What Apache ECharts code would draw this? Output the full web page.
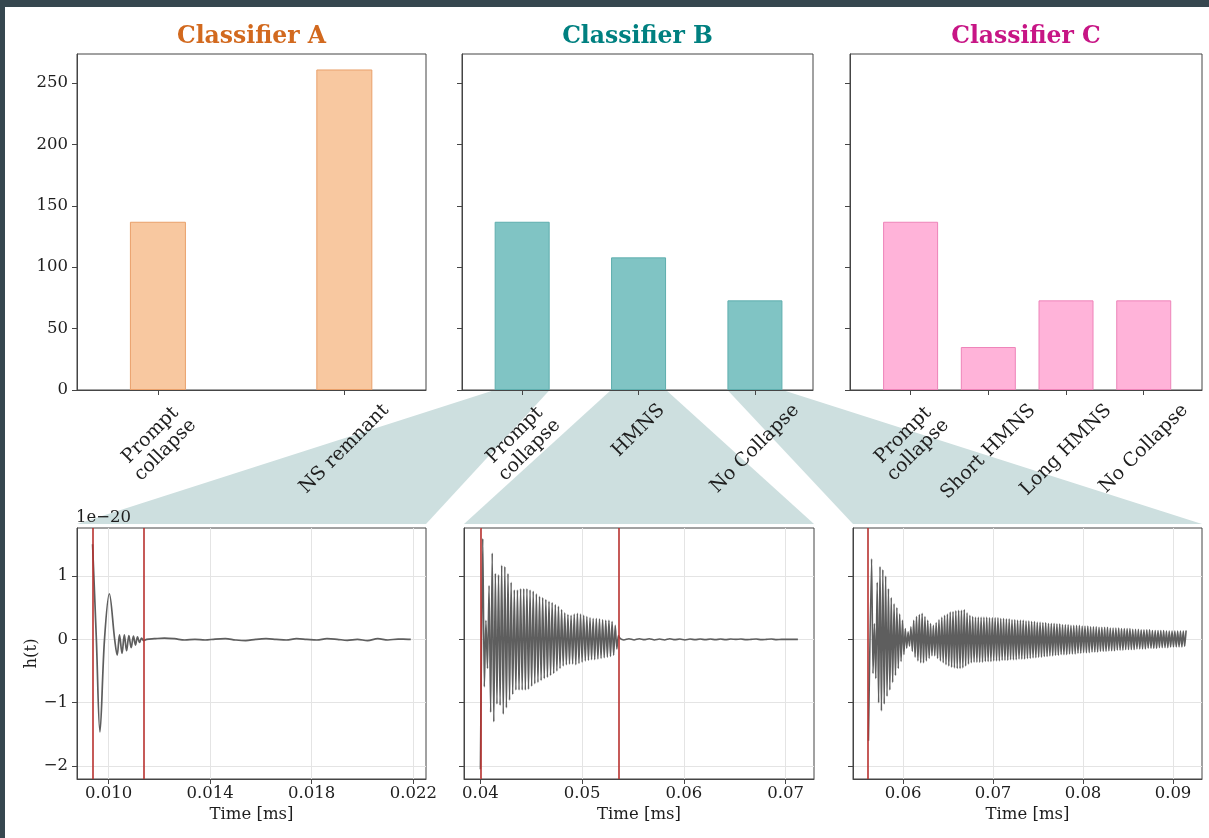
<!DOCTYPE html>
<html><head><meta charset="utf-8">
<script src="https://cdn.jsdelivr.net/npm/echarts@6/dist/echarts.min.js"></script>
<style>html,body{margin:0;padding:0;background:#36474f;}#c{width:1209px;height:838px;}</style>
</head><body><div id="c"></div>
<script>
// ================= DATA =================
const titles = ['Classifier A', 'Classifier B', 'Classifier C'];
const catsA = ['Prompt\ncollapse', 'NS remnant'];
const valsA = [137, 261];
const catsB = ['Prompt\ncollapse', 'HMNS', 'No Collapse'];
const valsB = [137, 108, 73];
const catsC = ['Prompt\ncollapse', 'Short HMNS', 'Long HMNS', 'No Collapse'];
const valsC = [137, 35, 73, 73];
const countTicks = [0, 50, 100, 150, 200, 250];
const strainTicks = [-2, -1, 0, 1];
const timeTicks1 = [0.010, 0.014, 0.018, 0.022];
const timeTicks2 = [0.04, 0.05, 0.06, 0.07];
const timeTicks3 = [0.06, 0.07, 0.08, 0.09];
const redLines1 = [0.00937, 0.01139];
const redLines2 = [0.0400, 0.0536];
const redLines3 = [0.05611];

// waveform 1 (prompt collapse): [time ms, h / 1e-20]
const wave1 = [[0.00937,1.50],[0.00952,0.00],[0.00966,-1.46],[0.00984,0.00],[0.01003,0.72],[0.01024,0.00],[0.01034,-0.25],
 [0.01043,0.07],[0.01053,-0.22],[0.01062,0.07],[0.01071,-0.18],[0.01080,0.06],[0.01089,-0.13],[0.01098,0.05],
 [0.01106,-0.09],[0.01114,0.04],[0.01122,-0.05],[0.01130,0.02],[0.01138,-0.02],[0.01150,0.00],[0.01180,0.01],
 [0.01220,0.02],[0.01260,0.01],[0.01300,-0.01],[0.01340,0.00],[0.01380,-0.01],[0.01420,0.005],[0.01460,0.01],
 [0.01500,-0.01],[0.01540,-0.02],[0.01580,0.00],[0.01620,0.01],[0.01660,0.00],[0.01700,-0.01],[0.01740,0.01],
 [0.01780,0.00],[0.01820,-0.01],[0.01860,0.01],[0.01900,0.00],[0.01940,-0.015],[0.01980,0.00],[0.02020,-0.02],
 [0.02060,0.01],[0.02100,-0.01],[0.02140,0.005],[0.02180,0.00],[0.02190,0.00]];

// waveform 2 (HMNS): start spike, then per-cycle maxima / minima, then tail
const wave2Head = [[0.04000,-2.05]];
const wave2Start = 0.04023, wave2Cycle = 0.00031;
const wave2Max = [1.59,0.30,0.85,1.36,1.04,1.02,1.17,1.15,1.04,0.90,0.78,0.78,0.80,0.80,0.80,0.78,0.76,0.72,0.68,0.66,
 0.63,0.60,0.58,0.55,0.52,0.47,0.42,0.39,0.38,0.40,0.41,0.40,0.38,0.36,0.34,0.33,0.33,0.32,0.31,0.30,0.30,0.28,0.22,0.06];
const wave2Min = [-0.75,-0.46,-1.15,-1.30,-1.02,-1.04,-1.18,-1.08,-0.96,-0.87,-0.80,-0.80,-0.80,-0.80,-0.79,-0.74,-0.70,
 -0.68,-0.65,-0.62,-0.60,-0.57,-0.54,-0.50,-0.46,-0.42,-0.40,-0.39,-0.39,-0.40,-0.38,-0.36,-0.34,-0.33,-0.32,-0.32,
 -0.31,-0.30,-0.29,-0.28,-0.27,-0.25,-0.15];
const wave2Tail = [[0.05375,0.01],[0.0541,-0.01],[0.0546,0.01],[0.0551,-0.01],[0.0556,0.01],[0.0561,-0.005],[0.0566,0.01],
 [0.0571,-0.01],[0.0576,0.005],[0.0581,-0.01],[0.0586,0.01],[0.0591,-0.005],[0.0596,0.005],[0.0601,-0.01],[0.0606,0.005],
 [0.0611,-0.005],[0.0616,0.005],[0.0621,-0.005],[0.0626,0.005],[0.0631,-0.005],[0.0636,0.005],[0.0641,-0.005],[0.0646,0.005],
 [0.0651,0.0],[0.0656,0.005],[0.0661,-0.005],[0.0666,0.0],[0.0671,0.005],[0.0676,-0.005],[0.0681,0.0],[0.0686,0.005],
 [0.0691,-0.005],[0.0696,0.0],[0.0701,0.0],[0.0706,0.0],[0.0712,0.0]];

// waveform 3 (no collapse): start spike, then per-cycle maxima / minima
const wave3Head = [[0.05616,-1.60]];
const wave3Start = 0.05651, wave3Cycle = 0.000312;
const wave3Max = [1.27,0.25,0.90,1.15,1.10,1.00,0.80,0.66,0.56,0.50,
 0.40,0.30,0.17,0.12,0.20,0.30,0.36,0.39,0.41,0.36,
 0.30,0.25,0.22,0.26,0.31,0.35,0.38,0.40,0.43,0.44,
 0.45,0.46,0.46,0.47,0.42,0.38,0.36,0.35,0.35,0.35,
 0.35,0.35,0.34,0.34,0.34,0.34,0.33,0.33,0.32,0.32,
 0.31,0.31,0.30,0.30,0.30,0.29,0.29,0.28,0.28,0.27,
 0.27,0.26,0.26,0.25,0.25,0.25,0.24,0.24,0.23,0.23,
 0.23,0.22,0.22,0.22,0.22,0.21,0.21,0.21,0.20,0.20,
 0.20,0.19,0.19,0.19,0.19,0.18,0.18,0.18,0.18,0.17,
 0.17,0.17,0.17,0.16,0.16,0.16,0.15,0.15,0.15,0.15,
 0.14,0.14,0.14,0.14,0.14,0.13,0.13,0.13,0.13,0.13,
 0.13,0.13,0.14];
const wave3Min = [-0.54,-0.62,-1.00,-1.13,-1.02,-0.90,-0.80,-0.68,-0.57,-0.46,
 -0.35,-0.24,-0.14,-0.11,-0.19,-0.28,-0.34,-0.37,-0.37,-0.34,
 -0.30,-0.26,-0.26,-0.30,-0.34,-0.37,-0.40,-0.42,-0.44,-0.45,
 -0.46,-0.46,-0.45,-0.42,-0.39,-0.37,-0.36,-0.36,-0.36,-0.36,
 -0.35,-0.35,-0.35,-0.34,-0.34,-0.34,-0.33,-0.33,-0.33,-0.32,
 -0.32,-0.32,-0.31,-0.31,-0.31,-0.30,-0.30,-0.29,-0.29,-0.28,
 -0.28,-0.27,-0.27,-0.26,-0.26,-0.25,-0.25,-0.24,-0.24,-0.24,
 -0.23,-0.23,-0.23,-0.22,-0.22,-0.21,-0.21,-0.21,-0.20,-0.20,
 -0.20,-0.19,-0.19,-0.19,-0.18,-0.18,-0.18,-0.17,-0.17,-0.17,
 -0.16,-0.16,-0.16,-0.16,-0.15,-0.15,-0.15,-0.15,-0.14,-0.14,
 -0.14,-0.14,-0.13,-0.13,-0.13,-0.13,-0.12,-0.12,-0.12,-0.12,
 -0.12,-0.11];
const wave3Tail = [];

// ================= STYLE / LAYOUT =================
const FONT = '"DejaVu Serif", "Liberation Serif", serif';
const TXT = '#1e1e1e', FRAME = '#454545', GRIDC = '#e4e4e4';
const titleColors = ['#d2691e', '#008080', '#c71585'];
const barFill = ['#f8c8a0', '#80c4c4', '#ffb3d9'];
const barEdge = ['#e9a06a', '#5eaeae', '#ee84b9'];
const barWidthsPx = [56, 55, 55];
const barGrids = [{left:77,top:54,width:349,height:336},{left:462,top:54,width:351,height:336},{left:850,top:54,width:352,height:336}];
const barXRange = [[-0.434,1.438],[-0.517,2.499],[-0.78,3.75]];
const waveGrids = [{left:77,top:528,width:349,height:251},{left:464,top:528,width:350,height:251},{left:853,top:528,width:349,height:251}];
const waveXRange = [[0.008757,0.0225],[0.038387,0.072783],[0.054444,0.093222]];
const countMax = 273.6, strainRange = [-2.205, 1.758];
const TICK_FS = 16.5, CAT_FS = 19;

function buildWave(head, t0, cyc, maxs, mins, tail) {
  const pts = head.slice();
  for (let k = 0; k < maxs.length; k++) {
    pts.push([t0 + k * cyc, maxs[k]]);
    if (k < mins.length) pts.push([t0 + (k + 0.5) * cyc, mins[k]]);
  }
  return pts.concat(tail);
}
const waves = [wave1,
  buildWave(wave2Head, wave2Start, wave2Cycle, wave2Max, wave2Min, wave2Tail),
  buildWave(wave3Head, wave3Start, wave3Cycle, wave3Max, wave3Min, wave3Tail)];
const cats = [catsA, catsB, catsC], vals = [valsA, valsB, valsC];
const timeTicks = [timeTicks1, timeTicks2, timeTicks3];
const redLines = [redLines1, redLines2, redLines3];
const timeDigits = [3, 2, 2];
const minusFmt = v => (v < 0 ? '\u2212' + (-v) : String(v));

const chart = echarts.init(document.getElementById('c'));
const grid = barGrids.concat(waveGrids).map(g => Object.assign({show:true, borderColor:FRAME, borderWidth:1, backgroundColor:'rgba(0,0,0,0)', containLabel:false, outerBoundsMode:'none'}, g));
const xAxis = [], yAxis = [], series = [];
const lbl = {fontFamily:FONT, fontSize:TICK_FS, color:TXT};
for (let i = 0; i < 3; i++) {
  const idx = cats[i].map((c, k) => k);
  xAxis.push({gridIndex:i, type:'value', min:barXRange[i][0], max:barXRange[i][1],
    axisLine:{show:true, onZero:false, lineStyle:{color:FRAME}},
    axisTick:{show:true, customValues:idx, length:5, lineStyle:{color:FRAME}},
    axisLabel:{show:false}, splitLine:{show:false}});
  yAxis.push({gridIndex:i, type:'value', min:0, max:countMax,
    axisLine:{show:true, onZero:false, lineStyle:{color:FRAME}},
    axisTick:{show:true, customValues:countTicks, length:5, lineStyle:{color:FRAME}},
    axisLabel:Object.assign({show:i === 0, customValues:countTicks, margin:9}, lbl),
    splitLine:{show:false}});
  series.push({type:'bar', xAxisIndex:i, yAxisIndex:i, barWidth:barWidthsPx[i],
    data:vals[i].map((v, k) => [k, v]),
    itemStyle:{color:barFill[i], borderColor:barEdge[i], borderWidth:1}});
}
for (let i = 0; i < 3; i++) {
  const gi = 3 + i;
  xAxis.push({gridIndex:gi, type:'value', min:waveXRange[i][0], max:waveXRange[i][1],
    name:'Time [ms]', nameLocation:'middle', nameGap:27, nameTextStyle:lbl,
    axisLine:{show:true, onZero:false, lineStyle:{color:FRAME}},
    axisTick:{show:true, customValues:timeTicks[i], length:5, lineStyle:{color:FRAME}},
    axisLabel:Object.assign({customValues:timeTicks[i], margin:6, formatter:(v => Number(v).toFixed(timeDigits[i]))}, lbl),
    splitLine:{show:true, lineStyle:{color:GRIDC, width:1}}});
  yAxis.push({gridIndex:gi, type:'value', min:strainRange[0], max:strainRange[1],
    name: i === 0 ? 'h(t)' : '', nameLocation:'middle', nameGap:36, nameRotate:90, nameTextStyle:lbl,
    axisLine:{show:true, onZero:false, lineStyle:{color:FRAME}},
    axisTick:{show:true, customValues:strainTicks, length:5, lineStyle:{color:FRAME}},
    axisLabel:Object.assign({show:i === 0, customValues:strainTicks, margin:9, formatter:minusFmt}, lbl),
    splitLine:{show:true, lineStyle:{color:GRIDC, width:1}}});
  series.push({type:'line', xAxisIndex:gi, yAxisIndex:gi, data:waves[i], showSymbol:false, symbol:'none',
    smooth: i === 0 ? 0.35 : 0.2, lineStyle:{color:'#5e5e5e', width: i === 0 ? 1.7 : 1.6}, z:3,
    markLine:{silent:true, symbol:['none','none'], label:{show:false}, animation:false, precision:6,
      lineStyle:{color:'#b8312f', width:1.6, type:'solid'}, emphasis:{disabled:true},
      data:redLines[i].map(v => ({xAxis:v}))}});
}
const title = titles.map((t, i) => ({text:t, left:barGrids[i].left + barGrids[i].width / 2, top:25, textAlign:'center', padding:0,
  textStyle:{fontFamily:FONT, fontWeight:'bold', fontSize:23.5, color:titleColors[i]}}));

chart.setOption({animation:false, backgroundColor:'#36474f', title, grid, xAxis, yAxis, series});

// ---- graphics: white page, connectors, rotated category labels, offset text ----
const ctx = document.createElement('canvas').getContext('2d');
ctx.font = CAT_FS + 'px ' + FONT;
const LINE_H = 21, LABEL_PAD = 10;
const gfx = [{type:'rect', shape:{x:5, y:7, width:1204, height:831}, style:{fill:'#ffffff'}, z:-10, silent:true}];
catsB.forEach((c, k) => {
  const p = chart.convertToPixel({gridIndex:1}, [k, 0]);
  const w = waveGrids[k], hw = barWidthsPx[1] / 2;
  gfx.push({type:'polygon', z:-1, silent:true, style:{fill:'#cddfdf'},
    shape:{points:[[p[0] - hw, p[1]], [p[0] + hw, p[1]], [w.left + w.width, w.top - 4], [w.left, w.top - 4]]}});
});
cats.forEach((list, gi) => list.forEach((c, k) => {
  const lines = c.split('\n');
  const W = Math.max.apply(null, lines.map(l => ctx.measureText(l).width));
  const H = lines.length * LINE_H;
  const p = chart.convertToPixel({gridIndex:gi}, [k, 0]);
  gfx.push({type:'text', x:p[0], y:p[1] + LABEL_PAD + 0.3536 * (W + H), rotation:Math.PI / 4, z:10, silent:true,
    style:{text:c, font:CAT_FS + 'px ' + FONT, fill:TXT, align:'center', verticalAlign:'middle', lineHeight:LINE_H}});
}));
gfx.push({type:'text', x:waveGrids[0].left - 1, y:waveGrids[0].top - 10, z:10, silent:true,
  style:{text:'1e\u221220', font:TICK_FS + 'px ' + FONT, fill:TXT, align:'left', verticalAlign:'middle'}});
chart.setOption({graphic:gfx});
</script></body></html>
